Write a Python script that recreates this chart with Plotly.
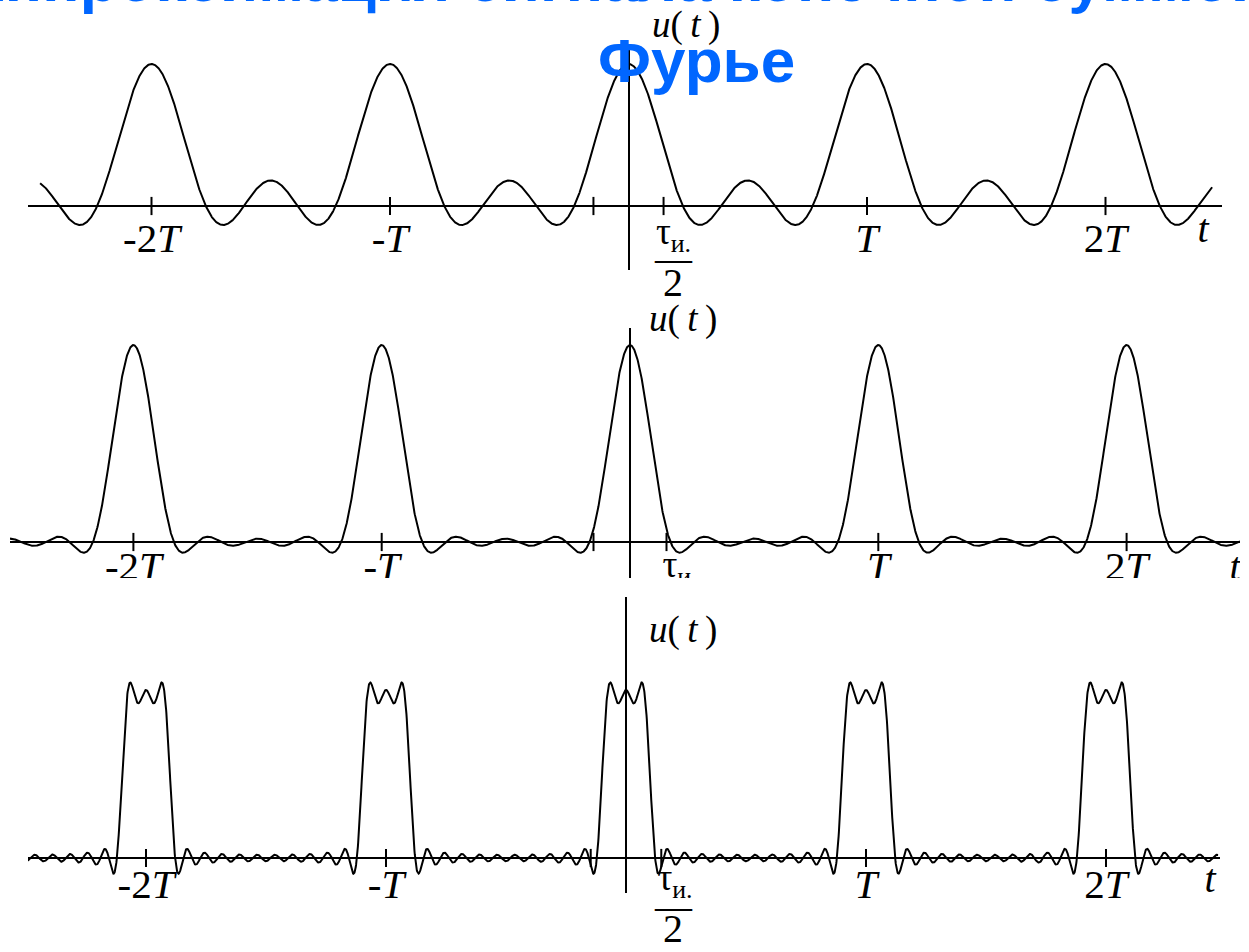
import numpy as np
import plotly.graph_objects as go

W, H = 1249, 952

# ---- data: harmonic amplitudes (DC term first) of the three partial Fourier sums
top_harmonics = [0.26, 0.41, 0.33]
mid_harmonics = [0.200, 0.3742, 0.3027, 0.2018, 0.0936]
bot_harmonics = [0.200, 0.3742, 0.3027, 0.2018, 0.0936, 0.0, -0.0624, -0.0865,
                 -0.0757, -0.0416, 0.0, 0.0340, 0.0505, 0.0466]

# time spans of the drawn curves (in periods T)
top_span = [-2.467, 2.447]
mid_span = [-2.497, 2.457]
bot_span = [-2.496, 2.467]

# axis ticks and labels
period_ticks = [-2, -1, 1, 2]
period_labels = ["-2<i>T</i>", "-<i>T</i>", "<i>T</i>", "2<i>T</i>"]
tau_ticks = [-0.147, 0.147]
title_text = "Аппроксимация сигнала конечной суммой ряда<br>Фурье"
ylabel_text = "<i>u</i>(\u2009<i>t</i>\u2009)"

# ---- panel geometry (pixels in the 1249x952 page)
panels = [
    dict(h=top_harmonics, span=top_span, ox=628.5, T=238.5, ay=206, unit=142,
         xpx=(28, 1222), ypx=(45, 270),
         lab_dy=36, t_x=1203, t_dy=26, num_x=673.5, num_dy=29,
         frac=(673, 259, 282), clip=False, ulab=(686, 25)),
    dict(h=mid_harmonics, span=mid_span, ox=630, T=248.3, ay=542, unit=168,
         xpx=(10, 1240), ypx=(328, 578),
         lab_dy=28, t_x=1235, t_dy=28, num_x=680, num_dy=26,
         frac=None, clip=True, ulab=(683, 319)),
    dict(h=bot_harmonics, span=bot_span, ox=626, T=240, ay=858, unit=162,
         xpx=(28, 1220), ypx=(597, 893),
         lab_dy=30, t_x=1210, t_dy=24, num_x=675, num_dy=23,
         frac=(673, 906, 928), clip=False, ulab=(683, 630)),
]

fig = go.Figure()
layout = dict(width=W, height=H, margin=dict(l=0, r=0, t=0, b=0),
              paper_bgcolor="white", plot_bgcolor="white", showlegend=False)
annotations = []
serif = "Liberation Serif"

for i, p in enumerate(panels):
    k = "" if i == 0 else str(i + 1)
    xr = [(p["xpx"][0] - p["ox"]) / p["T"], (p["xpx"][1] - p["ox"]) / p["T"]]
    yr = [-(p["ypx"][1] - p["ay"]) / p["unit"], (p["ay"] - p["ypx"][0]) / p["unit"]]
    ax_common = dict(showgrid=False, showticklabels=False, ticks="", showline=False,
                     zeroline=True, zerolinecolor="black", zerolinewidth=2, fixedrange=True)
    layout["xaxis" + k] = dict(range=xr, domain=[p["xpx"][0] / W, p["xpx"][1] / W],
                               anchor="y" + k, **ax_common)
    layout["yaxis" + k] = dict(range=yr, domain=[1 - p["ypx"][1] / H, 1 - p["ypx"][0] / H],
                               anchor="x" + k, **ax_common)

    # curve: partial Fourier sum
    t = np.linspace(p["span"][0], p["span"][1], 4000)
    u = np.zeros_like(t)
    for n, a in enumerate(p["h"]):
        u += a * np.cos(2 * np.pi * n * t)
    fig.add_trace(go.Scatter(x=t, y=u, mode="lines", line=dict(color="black", width=2),
                             xaxis="x" + k, yaxis="y" + k, hoverinfo="skip"))

    # tick marks on the t-axis
    tk = period_ticks + tau_ticks
    fig.add_trace(go.Scatter(x=tk, y=[0] * len(tk), mode="markers",
                             marker=dict(symbol="line-ns", size=13,
                                         line=dict(color="black", width=2)),
                             cliponaxis=False, xaxis="x" + k, yaxis="y" + k, hoverinfo="skip"))

    # tick labels, axis name and tau numerator (clipped with the panel like the reference)
    u_per = p["unit"]
    xs = list(period_ticks) + [(p["t_x"] - p["ox"]) / p["T"], (p["num_x"] - p["ox"]) / p["T"]]
    ys = [-p["lab_dy"] / u_per] * 4 + [-p["t_dy"] / u_per, -p["num_dy"] / u_per]
    txt = period_labels + ["<i>t</i>", "τ<sub>и.</sub>"]
    sizes = [41, 41, 41, 41, 40, 37]
    fig.add_trace(go.Scatter(x=xs, y=ys, mode="text", text=txt, textposition="middle center",
                             textfont=dict(family=serif, size=sizes, color="black"),
                             cliponaxis=p["clip"], xaxis="x" + k, yaxis="y" + k,
                             hoverinfo="skip"))

    annotations.append(dict(text=ylabel_text, xref="paper", yref="paper",
                            x=p["ulab"][0] / W, y=1 - p["ulab"][1] / H,
                            xanchor="center", yanchor="middle", showarrow=False,
                            font=dict(family=serif, size=37, color="black")))
    if p["frac"]:
        fx, bar_y, two_y = p["frac"]
        annotations.append(dict(text="\u2014", xref="paper", yref="paper",
                                x=fx / W, y=1 - bar_y / H, xanchor="center", yanchor="middle",
                                showarrow=False, font=dict(family=serif, size=37, color="black")))
        annotations.append(dict(text="2", xref="paper", yref="paper",
                                x=fx / W, y=1 - two_y / H, xanchor="center", yanchor="middle",
                                showarrow=False, font=dict(family=serif, size=40, color="black")))

annotations.append(dict(text="<b>" + title_text + "</b>", xref="paper", yref="paper",
                        x=697 / W, y=1 - 97 / H, xanchor="center", yanchor="bottom",
                        showarrow=False, align="center",
                        font=dict(family="Liberation Sans", size=62, color="#0066FF")))

layout["annotations"] = annotations
fig.update_layout(**layout)
fig.write_html("out.html", config={"displayModeBar": False},
               post_script="document.body.style.margin='0px';")
